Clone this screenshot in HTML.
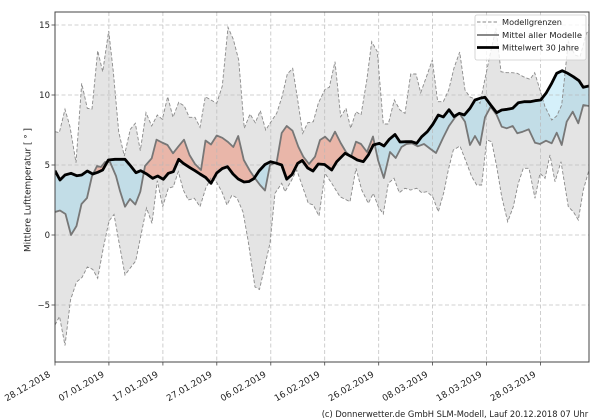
<!DOCTYPE html>
<html>
<head>
<meta charset="utf-8">
<style>
  html, body { margin: 0; padding: 0; background: #ffffff; }
  svg { display: block; }
  text { font-family: "DejaVu Sans", "Liberation Sans", sans-serif; fill: #222; }
</style>
</head>
<body>
<svg width="600" height="420" viewBox="0 0 600 420" xmlns="http://www.w3.org/2000/svg">
  <defs>
    <clipPath id="plot">
      <rect x="55" y="12" width="534" height="350"/>
    </clipPath>
    <clipPath id="belowBlack">
      <polygon points="55,170.7 60,180 65,175 71,173.3 76.7,175.7 81.7,175 87.3,171 92.7,174 97.7,172.3 102.7,170 108.3,160 115,159.3 125,159.3 130.7,166 136,172.7 140.7,170.7 146.7,174 152.7,178.3 157.7,176 163.3,179.3 168.3,173.3 173.3,171.7 178.7,159.3 183.3,163.3 190,167.7 195,170.7 200,174 205.7,177.5 211,183.3 216.7,173 222.3,168.5 227.5,166.7 233,174 238.2,179 244,182 249,181.5 254,178.5 259,171 265,164.5 270.5,161.7 276.7,163.3 281.7,165 286.7,179.2 292,174.5 297.7,163.3 302.3,160.5 307.7,168 313,171 318.3,164 324.5,164.5 331.7,170 336.7,161.7 345,153.3 351.7,156.7 357.3,160 363.3,161.7 368.3,155 373.3,145 379.3,143.3 384,146 389.3,139.3 395,134.5 400,142 406,141.7 411.7,141.7 416.7,143.3 421.7,136.7 427.3,131.7 432.7,124.5 438.3,115 443.3,117 449,109.7 454,116.5 459.3,113.3 464.3,115 470,108.3 475,100 480,98.3 485,97.3 490.7,105 496.7,112.7 501.7,110 507.3,109.3 512.7,108.3 518.3,102.7 524,101.7 530,101.7 535,100.7 540.7,100 546,93.3 551.7,83.3 556.7,73.3 562.3,70.7 567.7,73.3 573.3,76.7 579,80.7 583.3,87.3 589,86 589,420 55,420"/>
    </clipPath>
    <clipPath id="aboveBlack">
      <polygon points="55,170.7 60,180 65,175 71,173.3 76.7,175.7 81.7,175 87.3,171 92.7,174 97.7,172.3 102.7,170 108.3,160 115,159.3 125,159.3 130.7,166 136,172.7 140.7,170.7 146.7,174 152.7,178.3 157.7,176 163.3,179.3 168.3,173.3 173.3,171.7 178.7,159.3 183.3,163.3 190,167.7 195,170.7 200,174 205.7,177.5 211,183.3 216.7,173 222.3,168.5 227.5,166.7 233,174 238.2,179 244,182 249,181.5 254,178.5 259,171 265,164.5 270.5,161.7 276.7,163.3 281.7,165 286.7,179.2 292,174.5 297.7,163.3 302.3,160.5 307.7,168 313,171 318.3,164 324.5,164.5 331.7,170 336.7,161.7 345,153.3 351.7,156.7 357.3,160 363.3,161.7 368.3,155 373.3,145 379.3,143.3 384,146 389.3,139.3 395,134.5 400,142 406,141.7 411.7,141.7 416.7,143.3 421.7,136.7 427.3,131.7 432.7,124.5 438.3,115 443.3,117 449,109.7 454,116.5 459.3,113.3 464.3,115 470,108.3 475,100 480,98.3 485,97.3 490.7,105 496.7,112.7 501.7,110 507.3,109.3 512.7,108.3 518.3,102.7 524,101.7 530,101.7 535,100.7 540.7,100 546,93.3 551.7,83.3 556.7,73.3 562.3,70.7 567.7,73.3 573.3,76.7 579,80.7 583.3,87.3 589,86 589,0 55,0"/>
    </clipPath>
  </defs>

  <g clip-path="url(#plot)">
    <polygon fill="#e4e4e4" points="55,131.7 59.3,132.7 65,109.3 70,126.7 76,162.7 81.7,83.3 87.3,108.3 92,109 97.7,50.7 102.7,71.7 108.7,31 113.3,71.7 118.7,131.7 124.3,156 130.3,129.3 135.3,123.3 140.3,150.7 146,112.7 151.7,126 157.3,115 162.3,119.3 167.7,96.7 173,117.3 178.7,102.3 184.3,106 189.3,117.3 195,117.3 200,127.3 205.3,96.7 211,100 216.7,103.3 222.3,86 228,27.3 233.3,39.3 238.7,60 244.3,128.3 250,114 255.3,122.7 260.3,110.7 265.7,130 271,121.7 276.7,113.3 282,96.7 287.3,74 292.7,68.3 297.7,100 302.7,133.3 307.7,122.7 313.3,121.7 318.3,103.3 325,89.3 329.3,87.3 335,61.7 340.7,116.7 346,108.3 350.7,128.3 356,111.7 361,115 366.7,80.7 371.7,41.7 377.3,51.7 383.3,124 388.3,124 394.3,100 400,110 405,113.3 410.7,74 416,74 420.7,92.7 426.7,76 432.3,60 437.7,101.7 443.3,101.7 448.7,90 454,68 459.7,52 465,90 470,97 476,99.3 480,103.3 485.3,77.3 490.7,51.7 496,28.3 501,71.7 506.7,72.7 512,72.7 517.3,73.3 523.3,76.7 530,79.3 534.7,72.7 540,90 545,106.7 551.7,120 556.7,116 561.7,105 568.3,41.7 575,55 580,56.7 586.7,33 589,30 589,420 55,420"/>
    <polygon fill="#ffffff" points="55,325 59.5,316.5 65,345.5 70.5,300 76.5,282 82,277.5 87.3,267 92.7,269.3 97.7,278.3 103.3,248 109,221 114,214.5 119.3,244 125,275 130,268.3 135.7,261 141.2,234 146.5,208 152,223.3 157.3,180.7 162.7,206.7 168.3,188.3 173.3,186.7 178.3,171.7 183.3,190 188.3,200 194.3,198.3 200,206.7 205.7,188.3 211.5,177 217,183 222,192 227,205 232,195 237,198 243,212 248,240 255,287 259.5,289.5 265,265 270,243.3 275,193.3 281.7,183.3 285,191.7 291.7,180 296.7,170 302,185 308.3,203.3 313.3,205 319,216 325,173.3 331.7,183.3 340,196.7 350,201.7 356,168.3 361.7,190 368.3,203.3 373.3,193.3 378.3,206.7 383.3,214 388.3,183.3 394,178.3 399.3,192.7 405,188.3 410.7,190 416.7,188.3 421.7,192.7 426.7,191.7 432.7,196.7 438.3,211.7 444,191.7 448.3,170 453.3,150 460,146 466.7,163.3 471.7,176.7 476.7,185 481.7,185 486.7,140 491.7,141.7 496.7,166.7 501.7,196.7 507.7,221.7 513.3,206.7 518.3,183.3 523.3,168.3 529,168.3 535,198.3 540,173.3 545,178.3 550,155 555,181.7 561,161.7 568.3,206.7 573.3,211.7 578.3,220 583.3,190 589,170 589,420 55,420"/>

    <g clip-path="url(#belowBlack)">
      <polygon fill="rgb(116,204,238)" fill-opacity="0.3" points="55,212 60,210.5 65.5,214 71,235 76.5,226 81.5,204 87,198 92,176 97,166 101,167 105,162 110,162 116,176 120,191 125,206.7 130,199 135.3,204.5 140.3,191.7 145,166 151.7,158.3 156.5,139.7 162,142.5 167.5,145 173,153.3 178.5,146.3 184,139.7 189.5,155 195,164 201,170 205.5,140.5 211,144.5 216.7,135.5 222.3,137.8 228,142 233.3,147 238.2,136 243.8,160 250,171 255,178.3 260,185 265,190.5 270,165 276.7,162 281.7,133 286.7,126 292.5,130.7 298.3,146.7 303.3,156.7 309,164 315,156.7 320,140 325,136.7 330,141.5 335,131.7 340.7,143 346,152 351,156.7 356,141.7 361,144 367,152 373,136.5 378,160 383.8,178 390,152 395.7,158 401.5,147 406.5,144 412,143.3 417.8,146.3 424,144 430.5,149 436,153 443,138 449,126 455,117.5 459.3,113.3 465,121.7 470,145 475,136 480,145 485,117.3 490.7,106.7 496.7,115 501.7,126.7 506.7,128.3 512.7,126 517.3,133.3 522.7,131.7 528.7,129.3 535,142.7 540,144 546,140.7 551.7,143.3 556.7,132.7 561.7,145 566.7,121.7 572.7,111.7 578.3,123.3 583.3,105 589,106 589,0 55,0"/>
    </g>
    <g clip-path="url(#aboveBlack)">
      <polygon fill="rgb(240,113,80)" fill-opacity="0.4" points="55,212 60,210.5 65.5,214 71,235 76.5,226 81.5,204 87,198 92,176 97,166 101,167 105,162 110,162 116,176 120,191 125,206.7 130,199 135.3,204.5 140.3,191.7 145,166 151.7,158.3 156.5,139.7 162,142.5 167.5,145 173,153.3 178.5,146.3 184,139.7 189.5,155 195,164 201,170 205.5,140.5 211,144.5 216.7,135.5 222.3,137.8 228,142 233.3,147 238.2,136 243.8,160 250,171 255,178.3 260,185 265,190.5 270,165 276.7,162 281.7,133 286.7,126 292.5,130.7 298.3,146.7 303.3,156.7 309,164 315,156.7 320,140 325,136.7 330,141.5 335,131.7 340.7,143 346,152 351,156.7 356,141.7 361,144 367,152 373,136.5 378,160 383.8,178 390,152 395.7,158 401.5,147 406.5,144 412,143.3 417.8,146.3 424,144 430.5,149 436,153 443,138 449,126 455,117.5 459.3,113.3 465,121.7 470,145 475,136 480,145 485,117.3 490.7,106.7 496.7,115 501.7,126.7 506.7,128.3 512.7,126 517.3,133.3 522.7,131.7 528.7,129.3 535,142.7 540,144 546,140.7 551.7,143.3 556.7,132.7 561.7,145 566.7,121.7 572.7,111.7 578.3,123.3 583.3,105 589,106 589,420 55,420"/>
    </g>

    <g stroke="#b8b8b8" stroke-width="0.8" stroke-dasharray="4,2.5" fill="none" opacity="0.85">
      <line x1="108.9" y1="12" x2="108.9" y2="362"/>
      <line x1="162.9" y1="12" x2="162.9" y2="362"/>
      <line x1="216.8" y1="12" x2="216.8" y2="362"/>
      <line x1="270.8" y1="12" x2="270.8" y2="362"/>
      <line x1="324.7" y1="12" x2="324.7" y2="362"/>
      <line x1="378.7" y1="12" x2="378.7" y2="362"/>
      <line x1="432.6" y1="12" x2="432.6" y2="362"/>
      <line x1="486.6" y1="12" x2="486.6" y2="362"/>
      <line x1="540.5" y1="12" x2="540.5" y2="362"/>
      <line x1="55" y1="25" x2="589" y2="25"/>
      <line x1="55" y1="95" x2="589" y2="95"/>
      <line x1="55" y1="165" x2="589" y2="165"/>
      <line x1="55" y1="235" x2="589" y2="235"/>
      <line x1="55" y1="305" x2="589" y2="305"/>
    </g>

    <polyline fill="none" stroke="#8a8a8a" stroke-width="0.9" stroke-dasharray="3.5,2" points="55,131.7 59.3,132.7 65,109.3 70,126.7 76,162.7 81.7,83.3 87.3,108.3 92,109 97.7,50.7 102.7,71.7 108.7,31 113.3,71.7 118.7,131.7 124.3,156 130.3,129.3 135.3,123.3 140.3,150.7 146,112.7 151.7,126 157.3,115 162.3,119.3 167.7,96.7 173,117.3 178.7,102.3 184.3,106 189.3,117.3 195,117.3 200,127.3 205.3,96.7 211,100 216.7,103.3 222.3,86 228,27.3 233.3,39.3 238.7,60 244.3,128.3 250,114 255.3,122.7 260.3,110.7 265.7,130 271,121.7 276.7,113.3 282,96.7 287.3,74 292.7,68.3 297.7,100 302.7,133.3 307.7,122.7 313.3,121.7 318.3,103.3 325,89.3 329.3,87.3 335,61.7 340.7,116.7 346,108.3 350.7,128.3 356,111.7 361,115 366.7,80.7 371.7,41.7 377.3,51.7 383.3,124 388.3,124 394.3,100 400,110 405,113.3 410.7,74 416,74 420.7,92.7 426.7,76 432.3,60 437.7,101.7 443.3,101.7 448.7,90 454,68 459.7,52 465,90 470,97 476,99.3 480,103.3 485.3,77.3 490.7,51.7 496,28.3 501,71.7 506.7,72.7 512,72.7 517.3,73.3 523.3,76.7 530,79.3 534.7,72.7 540,90 545,106.7 551.7,120 556.7,116 561.7,105 568.3,41.7 575,55 580,56.7 586.7,33 589,30"/>
    <polyline fill="none" stroke="#8a8a8a" stroke-width="0.9" stroke-dasharray="3.5,2" points="55,325 59.5,316.5 65,345.5 70.5,300 76.5,282 82,277.5 87.3,267 92.7,269.3 97.7,278.3 103.3,248 109,221 114,214.5 119.3,244 125,275 130,268.3 135.7,261 141.2,234 146.5,208 152,223.3 157.3,180.7 162.7,206.7 168.3,188.3 173.3,186.7 178.3,171.7 183.3,190 188.3,200 194.3,198.3 200,206.7 205.7,188.3 211.5,177 217,183 222,192 227,205 232,195 237,198 243,212 248,240 255,287 259.5,289.5 265,265 270,243.3 275,193.3 281.7,183.3 285,191.7 291.7,180 296.7,170 302,185 308.3,203.3 313.3,205 319,216 325,173.3 331.7,183.3 340,196.7 350,201.7 356,168.3 361.7,190 368.3,203.3 373.3,193.3 378.3,206.7 383.3,214 388.3,183.3 394,178.3 399.3,192.7 405,188.3 410.7,190 416.7,188.3 421.7,192.7 426.7,191.7 432.7,196.7 438.3,211.7 444,191.7 448.3,170 453.3,150 460,146 466.7,163.3 471.7,176.7 476.7,185 481.7,185 486.7,140 491.7,141.7 496.7,166.7 501.7,196.7 507.7,221.7 513.3,206.7 518.3,183.3 523.3,168.3 529,168.3 535,198.3 540,173.3 545,178.3 550,155 555,181.7 561,161.7 568.3,206.7 573.3,211.7 578.3,220 583.3,190 589,170"/>

    <polyline fill="none" stroke="#777777" stroke-width="1.8" stroke-linejoin="round" points="55,212 60,210.5 65.5,214 71,235 76.5,226 81.5,204 87,198 92,176 97,166 101,167 105,162 110,162 116,176 120,191 125,206.7 130,199 135.3,204.5 140.3,191.7 145,166 151.7,158.3 156.5,139.7 162,142.5 167.5,145 173,153.3 178.5,146.3 184,139.7 189.5,155 195,164 201,170 205.5,140.5 211,144.5 216.7,135.5 222.3,137.8 228,142 233.3,147 238.2,136 243.8,160 250,171 255,178.3 260,185 265,190.5 270,165 276.7,162 281.7,133 286.7,126 292.5,130.7 298.3,146.7 303.3,156.7 309,164 315,156.7 320,140 325,136.7 330,141.5 335,131.7 340.7,143 346,152 351,156.7 356,141.7 361,144 367,152 373,136.5 378,160 383.8,178 390,152 395.7,158 401.5,147 406.5,144 412,143.3 417.8,146.3 424,144 430.5,149 436,153 443,138 449,126 455,117.5 459.3,113.3 465,121.7 470,145 475,136 480,145 485,117.3 490.7,106.7 496.7,115 501.7,126.7 506.7,128.3 512.7,126 517.3,133.3 522.7,131.7 528.7,129.3 535,142.7 540,144 546,140.7 551.7,143.3 556.7,132.7 561.7,145 566.7,121.7 572.7,111.7 578.3,123.3 583.3,105 589,106"/>

    <polyline fill="none" stroke="#000000" stroke-width="2.8" stroke-linejoin="round" points="55,170.7 60,180 65,175 71,173.3 76.7,175.7 81.7,175 87.3,171 92.7,174 97.7,172.3 102.7,170 108.3,160 115,159.3 125,159.3 130.7,166 136,172.7 140.7,170.7 146.7,174 152.7,178.3 157.7,176 163.3,179.3 168.3,173.3 173.3,171.7 178.7,159.3 183.3,163.3 190,167.7 195,170.7 200,174 205.7,177.5 211,183.3 216.7,173 222.3,168.5 227.5,166.7 233,174 238.2,179 244,182 249,181.5 254,178.5 259,171 265,164.5 270.5,161.7 276.7,163.3 281.7,165 286.7,179.2 292,174.5 297.7,163.3 302.3,160.5 307.7,168 313,171 318.3,164 324.5,164.5 331.7,170 336.7,161.7 345,153.3 351.7,156.7 357.3,160 363.3,161.7 368.3,155 373.3,145 379.3,143.3 384,146 389.3,139.3 395,134.5 400,142 406,141.7 411.7,141.7 416.7,143.3 421.7,136.7 427.3,131.7 432.7,124.5 438.3,115 443.3,117 449,109.7 454,116.5 459.3,113.3 464.3,115 470,108.3 475,100 480,98.3 485,97.3 490.7,105 496.7,112.7 501.7,110 507.3,109.3 512.7,108.3 518.3,102.7 524,101.7 530,101.7 535,100.7 540.7,100 546,93.3 551.7,83.3 556.7,73.3 562.3,70.7 567.7,73.3 573.3,76.7 579,80.7 583.3,87.3 589,86"/>
  </g>

  <rect x="55" y="12" width="534" height="350" fill="none" stroke="#444" stroke-width="1"/>

  <g stroke="#444" stroke-width="0.8">
    <line x1="55" y1="362" x2="55" y2="365.5"/>
    <line x1="108.9" y1="362" x2="108.9" y2="365.5"/>
    <line x1="162.9" y1="362" x2="162.9" y2="365.5"/>
    <line x1="216.8" y1="362" x2="216.8" y2="365.5"/>
    <line x1="270.8" y1="362" x2="270.8" y2="365.5"/>
    <line x1="324.7" y1="362" x2="324.7" y2="365.5"/>
    <line x1="378.7" y1="362" x2="378.7" y2="365.5"/>
    <line x1="432.6" y1="362" x2="432.6" y2="365.5"/>
    <line x1="486.6" y1="362" x2="486.6" y2="365.5"/>
    <line x1="540.5" y1="362" x2="540.5" y2="365.5"/>
    <line x1="51.5" y1="25" x2="55" y2="25"/>
    <line x1="51.5" y1="95" x2="55" y2="95"/>
    <line x1="51.5" y1="165" x2="55" y2="165"/>
    <line x1="51.5" y1="235" x2="55" y2="235"/>
    <line x1="51.5" y1="305" x2="55" y2="305"/>
  </g>

  <g font-size="8.5" text-anchor="end">
    <text x="50" y="28">15</text>
    <text x="50" y="98">10</text>
    <text x="50" y="168">5</text>
    <text x="50" y="238">0</text>
    <text x="50" y="308">−5</text>
  </g>

  <g font-size="8.8" text-anchor="end">
    <text transform="translate(51,376) rotate(-30)" textLength="51" lengthAdjust="spacingAndGlyphs">28.12.2018</text>
    <text transform="translate(104.9,376) rotate(-30)" textLength="51" lengthAdjust="spacingAndGlyphs">07.01.2019</text>
    <text transform="translate(158.9,376) rotate(-30)" textLength="51" lengthAdjust="spacingAndGlyphs">17.01.2019</text>
    <text transform="translate(212.8,376) rotate(-30)" textLength="51" lengthAdjust="spacingAndGlyphs">27.01.2019</text>
    <text transform="translate(266.8,376) rotate(-30)" textLength="51" lengthAdjust="spacingAndGlyphs">06.02.2019</text>
    <text transform="translate(320.7,376) rotate(-30)" textLength="51" lengthAdjust="spacingAndGlyphs">16.02.2019</text>
    <text transform="translate(374.7,376) rotate(-30)" textLength="51" lengthAdjust="spacingAndGlyphs">26.02.2019</text>
    <text transform="translate(428.6,376) rotate(-30)" textLength="51" lengthAdjust="spacingAndGlyphs">08.03.2019</text>
    <text transform="translate(482.6,376) rotate(-30)" textLength="51" lengthAdjust="spacingAndGlyphs">18.03.2019</text>
    <text transform="translate(536.5,376) rotate(-30)" textLength="51" lengthAdjust="spacingAndGlyphs">28.03.2019</text>
  </g>

  <text transform="translate(30.5,190) rotate(-90)" font-size="8.8" text-anchor="middle" textLength="124" lengthAdjust="spacingAndGlyphs">Mittlere Lufttemperatur [ ° ]</text>

  <rect x="475" y="15" width="111" height="45" rx="2" fill="#ffffff" fill-opacity="0.8" stroke="#cccccc" stroke-width="0.8"/>
  <line x1="477" y1="22" x2="499" y2="22" stroke="#8a8a8a" stroke-width="0.9" stroke-dasharray="3.5,2"/>
  <line x1="477" y1="35" x2="499" y2="35" stroke="#777777" stroke-width="1.8"/>
  <line x1="477" y1="47.5" x2="499" y2="47.5" stroke="#000000" stroke-width="2.8"/>
  <g font-size="8.3">
    <text x="502" y="25" textLength="60" lengthAdjust="spacingAndGlyphs">Modellgrenzen</text>
    <text x="502" y="38" textLength="80" lengthAdjust="spacingAndGlyphs">Mittel aller Modelle</text>
    <text x="502" y="50.5" textLength="77" lengthAdjust="spacingAndGlyphs">Mittelwert 30 Jahre</text>
  </g>

  <text x="321.7" y="417" font-size="8.8" textLength="266.5" lengthAdjust="spacingAndGlyphs">(c) Donnerwetter.de GmbH SLM-Modell, Lauf 20.12.2018 07 Uhr</text>
</svg>
</body>
</html>
